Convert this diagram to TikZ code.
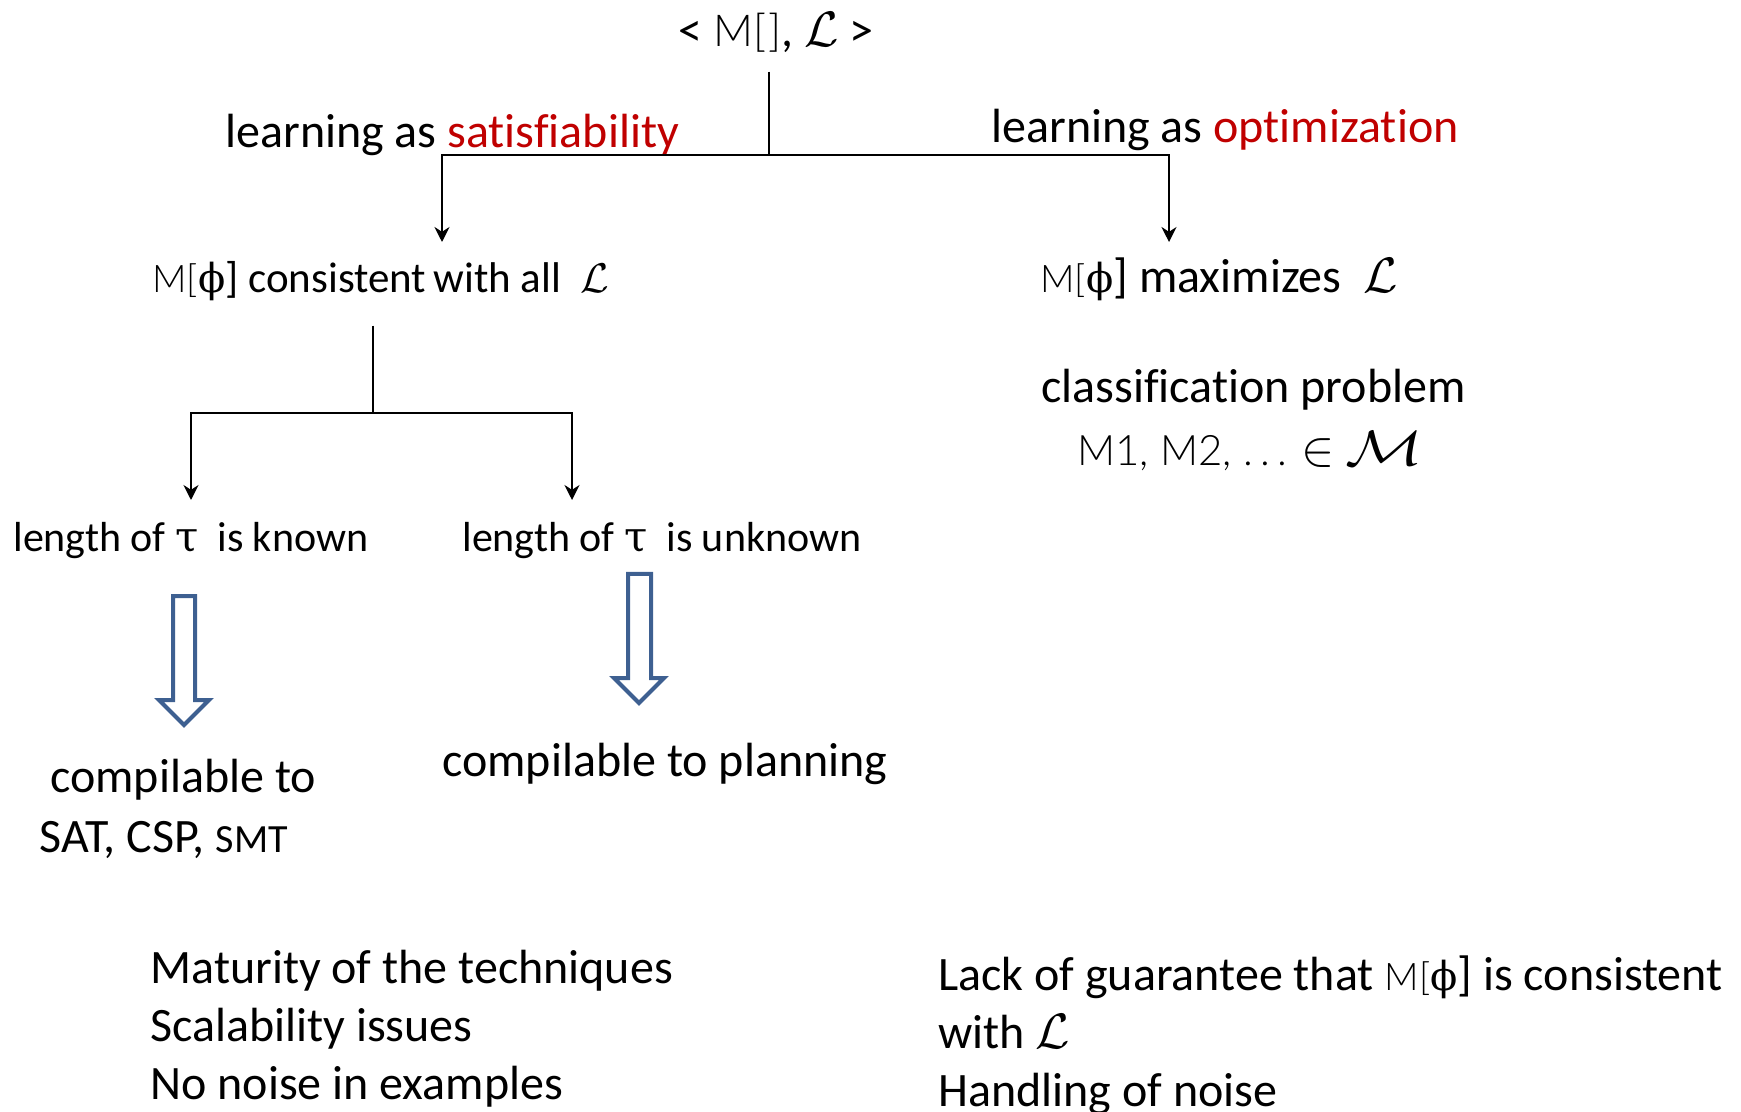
\documentclass[tikz,border=0pt]{standalone}
\usepackage{fontspec}
\setmainfont{Carlito}[Ligatures = NoCommon]
\newfontfamily\thinfont{Lato Light}
\newfontfamily\symfont{DejaVu Serif}
\usetikzlibrary{positioning, arrows.meta}

\definecolor{hotred}{RGB}{192,0,0}
\definecolor{hollowblue}{RGB}{62,96,145}

\newcommand{\Mphi}{{\thinfont\fontsize{19}{19}\selectfont M[}{\symfont\fontsize{20}{20}\selectfont ϕ}]}
\newcommand{\scrL}{$\mathcal{L}$}

\tikzset{
	txt/.style = {font = \fontsize{24}{29}\selectfont,
				  inner sep = 0pt,
				  anchor = base west},
	link/.style = {line width = 1pt},
	tip/.style = {-{Stealth[length = 7.5pt, width = 7.5pt]}},
	hollow/.style = {draw = hollowblue,
					 line width = 2pt,
					 line join = miter}
}

\begin{document}
\begin{tikzpicture}[x = 0.5pt, y = -0.5pt]
	\useasboundingbox (0, 0) rectangle (1741, 1112);

	% top of the tree
	\node[txt, anchor = base](root) at (776, 47)
		{< {\thinfont\fontsize{22}{22}\selectfont M[\kern1pt]}, \scrL\ >};
	\node[txt](lsat) at (225, 148)
		{learning as \textcolor{hotred}{satisfiability}};
	\node[txt](lopt) at (991, 143)
		{learning as \textcolor{hotred}{optimization}};

	\coordinate (split) at (769, 155);
	\coordinate (satin) at (442, 242);
	\coordinate (optin) at (1169, 242);

	\node[txt, font = \fontsize{21.5}{26}\selectfont](cons) at (152, 293)
		{\Mphi\ consistent\,with all \ \scrL};
	\node[txt](maxi) at (1040, 293)
		{\Mphi\ maximizes \ \scrL};

	\node[txt](class) at (1041, 403)
		{classification problem};
	\node[txt](mlist) at (1077, 466)
		{{\thinfont\fontsize{21}{21}\selectfont M1, M2, .\,.\,.} $\in$
		 \scalebox{1.3}[1]{\fontsize{27}{27}\selectfont$\mathcal{M}$}};

	\draw[link] (split |- root.south) ++(0, 18) -- (split);
	\draw[link, tip] (split) -| (satin);
	\draw[link, tip] (split) -| (optin);

	% satisfiability branch
	\coordinate (split2) at (373, 413);
	\coordinate (knownin) at (191, 500);
	\coordinate (unknownin) at (572, 500);

	\draw[link] (split2 |- cons.south) ++(0, 24) -- (split2);
	\draw[link, tip] (split2) -| (knownin);
	\draw[link, tip] (split2) -| (unknownin);

	\node[txt, font = \fontsize{21}{25}\selectfont](known) at (13, 552)
		{length of {\symfont τ} \ is known};
	\node[txt, font = \fontsize{21}{25}\selectfont](unknown) at (462, 552)
		{length of {\symfont τ} \ is unknown};

	% hollow arrows
	\draw[hollow] (173, 596) -- (195, 596) -- (195, 700) -- (209, 700)
		-- (184, 725) -- (159, 700) -- (173, 700) -- cycle;
	\draw[hollow] (628, 574) -- (651, 574) -- (651, 678) -- (664, 678)
		-- (639, 703) -- (614, 678) -- (628, 678) -- cycle;

	\node[txt](compsat) at (50, 792) {compilable to};
	\node[txt](satlist) at (39, 852)
		{SAT, CSP, {\fontsize{20}{24}\selectfont SMT}};
	\node[txt](compplan) at (442, 776) {compilable to planning};

	% pros and cons
	\node[txt, align = left](satnotes) at (150, 1099)
		{Maturity of the techniques\\
		 Scalability issues\\
		 No noise in examples};
	\node[txt, align = left](optnotes) at (938, 1106)
		{Lack of guarantee that \Mphi\ is consistent\\
		 with \scrL\\
		 Handling of noise};
\end{tikzpicture}
\end{document}
